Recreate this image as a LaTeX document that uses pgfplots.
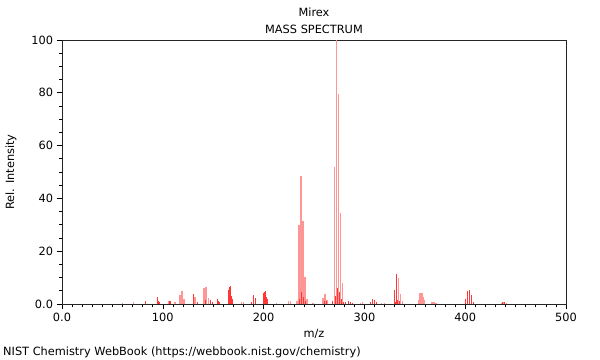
\documentclass[border=0pt]{standalone}
\usepackage{pgfplots}
\pgfplotsset{compat=1.18}
\usepackage{fontspec}
\setmainfont{DejaVu Sans}
\definecolor{peakl}{RGB}{255,150,150}
\definecolor{peakd}{RGB}{255,55,55}
\begin{document}
\fontsize{11.35bp}{13.6bp}\selectfont
\begin{tikzpicture}
\begin{axis}[
  at={(62bp,56bp)}, anchor=south west,
  scale only axis, width=504bp, height=264bp,
  xmin=0, xmax=500, ymin=0, ymax=100,
  xtick={0,100,200,300,400,500},
  xticklabels={0.0,100,200,300,400,500},
  ytick={0,20,40,60,80,100},
  yticklabels={0.0,20,40,60,80,100},
  minor x tick num=9, minor y tick num=3,
  tick align=outside, xtick pos=bottom, ytick pos=left,
  major tick length=5bp, minor tick length=3bp,
  tick style={black, line width=0.6bp},
  axis line style={black!85, line width=0.8bp},
  /pgf/number format/assume math mode=true,
  title={Mirex\\[4.2bp]MASS SPECTRUM},
  title style={align=center, at={(rel axis cs:0.5,1.050)}, anchor=center},
  xlabel={m/z},
  xlabel style={at={(rel axis cs:0.5,-0.112)}, anchor=center},
  ylabel={Rel. Intensity},
  ylabel style={at={(rel axis cs:-0.101,0.5)}, anchor=center},
]
% light (isolated, anti-aliased) peaks
\addplot[ycomb, draw=peakl, line width=1.3bp, no marks] coordinates {
(60,0.5) (71,0.7) (106,1.3) (112,0.6)
(117,3.5) (119,5.0) (121,1.9)
(132,2.5) (141,5.9) (143,6.6) (145,2.1)
(178,0.8) (180,0.9) (213,0.5) (225,1.0) (227,1.0) (233,1.0)
(235,30.0) (237,48.5) (239,31.3) (241,10.2) (243,1.8)
(249,0.5) (259,2.3) (261,3.8) (263,1.6)
(270,52.0) (272,100.0) (274,79.5) (276,34.5) (278,8.0)
(296,0.5) (298,0.7) (317,0.4) (320,0.4)
(334,10.0) (336,3.8) (338,1.0)
(354,1.5) (355,4.0) (356,4.0) (357,4.0) (358,2.5) (359,1.5)
(367,0.6) (369,0.8) (371,0.5)
(436,0.5) (438,0.8) (441,0.5)
};
% dark (solid) peaks
\addplot[ycomb, draw=peakd, line width=1bp, no marks] coordinates {
(83,1.0) (95,2.8) (96,1.3) (97,0.6)
(107,1.2) (108,1.0)
(130,3.8) (134,0.7)
(142,1.5) (147,1.5) (149,0.9)
(154,1.8) (155,1.3) (156,0.8)
(165,5.3) (166,6.3) (167,7.0) (168,3.0) (169,1.8)
(188,0.8) (190,3.4) (192,2.1)
(200,4.0) (201,4.4) (202,4.9) (203,2.5) (204,2.0)
(236,2.0) (238,4.5) (240,2.8) (242,1.0)
(260,1.0) (262,1.2) (268,1.0)
(271,3.0) (273,6.0) (275,4.5) (277,2.0) (279,0.8)
(281,0.8) (284,1.3) (286,0.8) (288,0.4)
(306,0.8) (308,1.9) (310,1.6) (312,0.6)
(330,5.4) (331,0.8) (332,11.5) (333,1.5) (335,1.0)
(400,1.9) (402,4.8) (404,5.3) (406,3.5) (408,0.8)
(437,0.7) (439,0.8)
};
\end{axis}
\node[anchor=west, inner sep=0pt] at (3bp,8bp) {NIST Chemistry WebBook (https://webbook.nist.gov/chemistry)};
\path (0,0) rectangle (600bp,360bp);
\end{tikzpicture}
\end{document}
